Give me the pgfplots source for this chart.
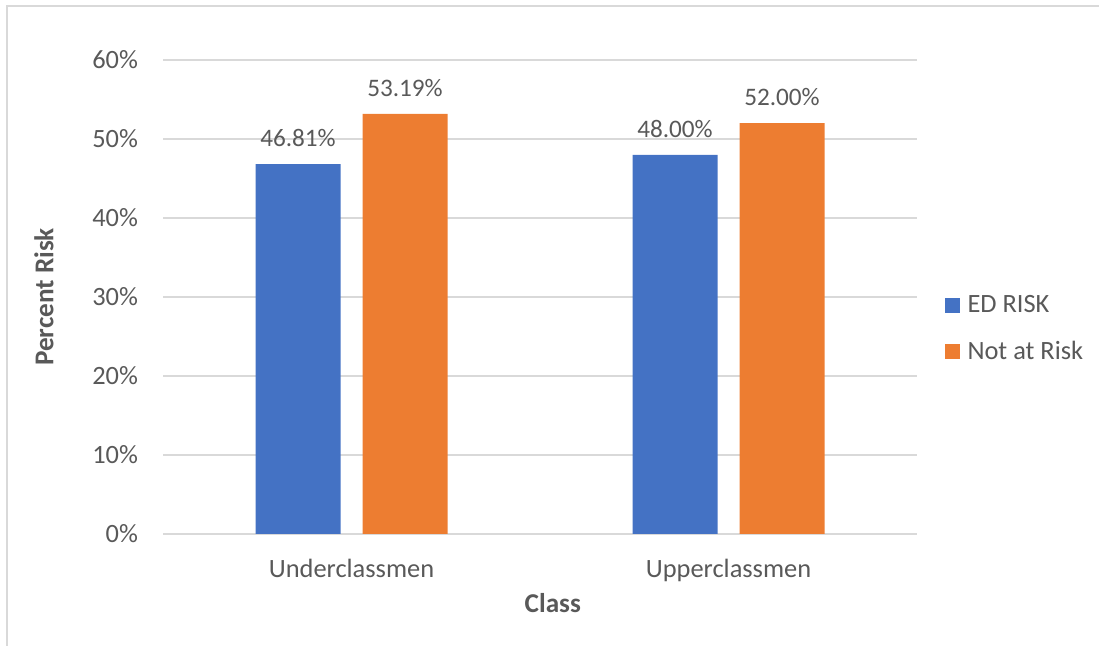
\documentclass[border=0pt]{standalone}
\usepackage{pgfplots}
\pgfplotsset{compat=1.18}
\usepackage{fontspec}
\setmainfont{Carlito}
\definecolor{edblue}{HTML}{4472C4}
\definecolor{riskorange}{HTML}{ED7D31}
\definecolor{gridgray}{HTML}{D9D9D9}
\definecolor{textgray}{HTML}{595959}
\begin{document}
\begin{tikzpicture}
\useasboundingbox (0pt,0pt) rectangle (549.5pt,323pt);
% chart frame
\draw[gridgray, line width=1pt] (3.5pt,0pt) -- (3.5pt,320pt) -- (549.5pt,320pt);
\begin{axis}[
  at={(81.5pt,56pt)}, anchor=south west,
  scale only axis, width=377pt, height=237pt,
  ybar=11pt, bar width=42.5pt,
  xmin=-0.5, xmax=1.5,
  ymin=0, ymax=60,
  xtick=data, xticklabels={Underclassmen,Upperclassmen},
  ytick={0,10,...,60},
  yticklabel={\pgfmathprintnumber{\tick}\%},
  /pgf/number format/assume math mode=true,
  ymajorgrids, grid style={gridgray, line width=1pt},
  axis line style={draw=none},
  axis x line*=bottom,
  x axis line style={draw=gridgray, line width=1pt},
  tick style={draw=none},
  ticklabel style={font=\fontsize{13.2}{15}\selectfont, text=textgray},
  yticklabel style={xshift=-9pt},
  xticklabel style={yshift=-5pt},
  xlabel={Class},
  ylabel={Percent Risk},
  label style={font=\fontsize{13.6}{16}\selectfont\bfseries, text=textgray},
  xlabel style={at={(axis description cs:0.517,-0.1456)}, anchor=center},
  ylabel style={at={(axis description cs:-0.158,0.5)}, anchor=center},
  nodes near coords={\pgfmathprintnumber[fixed,fixed zerofill,precision=2]{\pgfplotspointmeta}\%},
  point meta=y,
  nodes near coords style={font=\fontsize{12.6}{15}\selectfont, text=textgray, yshift=5pt},
  legend style={at={(axis description cs:1.028,0.433)}, anchor=west, draw=none,
    font=\fontsize{13.2}{15}\selectfont, text=textgray, row sep=9pt,
    column sep=2pt, legend cell align=left},
  legend image code/.code={\fill (0pt,-3.75pt) rectangle (7.5pt,3.75pt);},
]
\addplot[fill=edblue, draw=none] coordinates {(0,46.81) (1,48.00)};
\addplot[fill=riskorange, draw=none] coordinates {(0,53.19) (1,52.00)};
\legend{ED RISK, Not at Risk}
\end{axis}
\end{tikzpicture}
\end{document}
